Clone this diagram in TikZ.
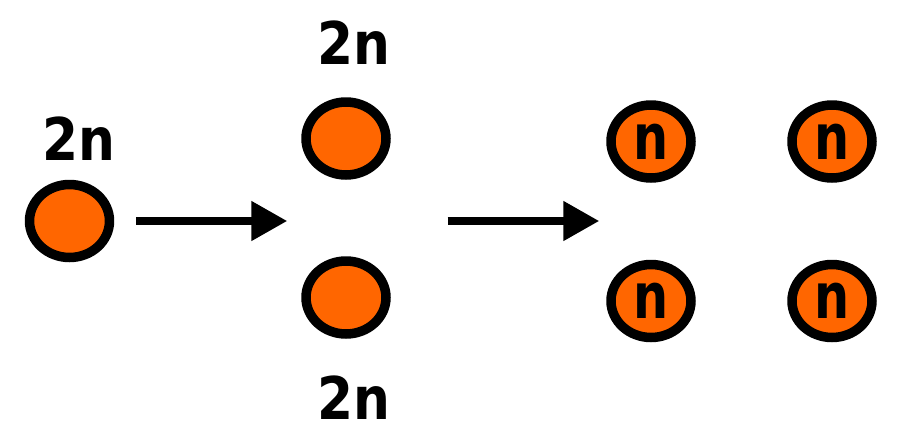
\documentclass[tikz,border=0pt]{standalone}
\usepackage{fontspec}
\setmainfont{DejaVu Sans}
\newfontfamily\labelfont{DejaVu Sans}[FakeStretch=0.88]
\newfontfamily\cellfont{DejaVu Sans}[FakeStretch=0.78]
\usetikzlibrary{shapes.geometric, arrows.meta, positioning}
\definecolor{cellorange}{RGB}{255,102,0}

\begin{document}
\begin{tikzpicture}[
    x=0.02cm, y=-0.02cm,
    cell/.style={ellipse, draw, fill=cellorange, line width=0.19cm, minimum width=1.6cm, minimum height=1.46cm, inner sep=0pt, font=\cellfont\fontsize{36}{40}\selectfont\bfseries},
    countlabel/.style={inner sep=0pt, font=\labelfont\fontsize{33.5}{38}\selectfont\bfseries},
    arrow/.style={-{Triangle[length=0.72cm, width=0.76cm]}, line width=0.16cm}
]
\useasboundingbox (0,0) rectangle (900,440);

% Parent cell
\node[cell] (parent) at (69.5,221) {};
\node[countlabel, above=0.38cm of parent, xshift=0.19cm] (parentlabel) {2n};

% Two daughter cells
\node[cell] (daughtertop) at (346,138.5) {};
\node[cell] (daughterbottom) at (346,297.5) {};
\node[countlabel, above=0.64cm of daughtertop, xshift=0.16cm] (toplabel) {2n};
\node[countlabel, below=0.74cm of daughterbottom, xshift=0.16cm] (bottomlabel) {2n};

% Four haploid cells
\node[cell] (gamete1) at (651,141.5) {n};
\node[cell] (gamete2) at (832,141.5) {n};
\node[cell] (gamete3) at (651,301) {n};
\node[cell] (gamete4) at (832,301) {n};

% Arrows
\draw[arrow] ([xshift=0.44cm]parent.east) -- ([xshift=-0.28cm]daughtertop.west |- parent.east);
\draw[arrow] ([xshift=1.14cm]daughtertop.east |- parent.east) -- ([xshift=-0.14cm]gamete1.west |- parent.east);

\end{tikzpicture}
\end{document}
